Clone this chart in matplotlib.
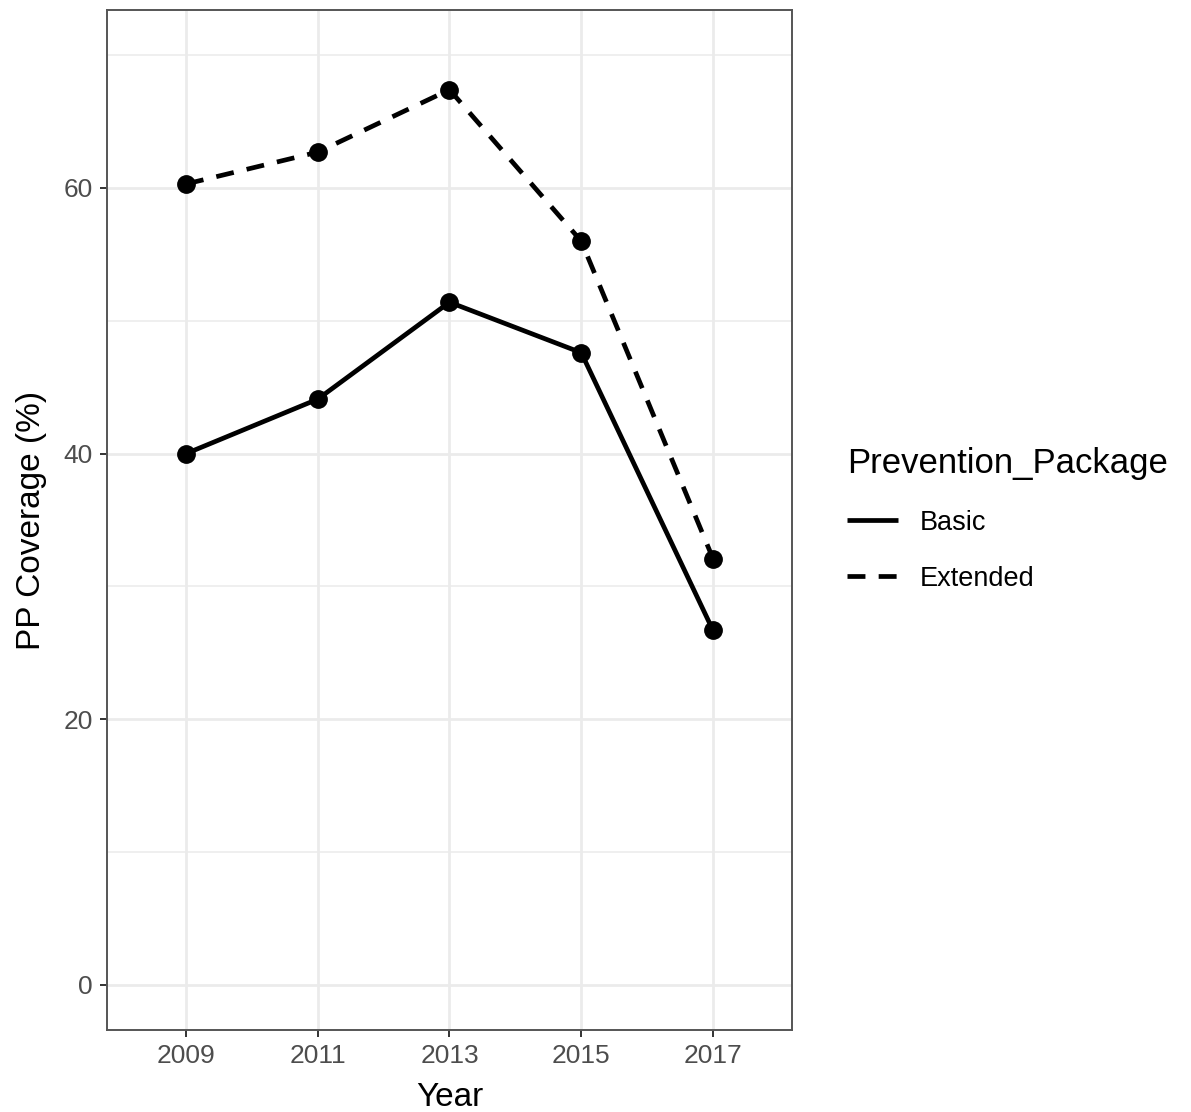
import matplotlib
matplotlib.use('Agg')
import matplotlib.pyplot as plt
from matplotlib.ticker import MultipleLocator

plt.rcParams['font.family'] = ['Liberation Sans', 'DejaVu Sans']

# Data
years = ['2009', '2011', '2013', '2015', '2017']
basic = [40.0, 44.1, 51.4, 47.6, 26.7]
extended = [60.3, 62.7, 67.4, 56.0, 32.1]
y_ticks = [0, 20, 40, 60]

fig = plt.figure(figsize=(11.91, 11.12), dpi=100)
ax = fig.add_axes([0.0898, 0.0737, 0.5752, 0.9173])

x = list(range(len(years)))

ax.plot(x, basic, color='black', lw=3.4, solid_capstyle='butt', label='Basic', zorder=3)
ax.plot(x, extended, color='black', lw=3.4, linestyle=(0, (3.8, 2.8)), label='Extended', zorder=3)
ax.plot(x, basic, 'o', color='black', ms=12.5, zorder=4)
ax.plot(x, extended, 'o', color='black', ms=12.5, zorder=4)

ax.set_xlim(-0.6, len(years) - 1 + 0.6)
ax.set_ylim(-3.4, 73.4)
ax.set_xticks(x)
ax.set_xticklabels(years)
ax.set_yticks(y_ticks)
ax.yaxis.set_minor_locator(MultipleLocator(10))

# theme_bw-like styling
ax.grid(True, which='major', color='#EBEBEB', lw=2.0, zorder=0)
ax.grid(True, which='minor', axis='y', color='#EBEBEB', lw=1.1, zorder=0)
ax.set_axisbelow(True)
for s in ax.spines.values():
    s.set_color('#555555')
    s.set_linewidth(1.4)
ax.tick_params(which='major', length=5, width=1.4, color='#333333', labelsize=19,
               labelcolor='#4D4D4D', pad=5)
ax.tick_params(which='minor', length=0)

ax.set_xlabel('Year', fontsize=24, labelpad=10)
ax.set_ylabel('PP Coverage (%)', fontsize=24, labelpad=12)

leg = ax.legend(title='Prevention_Package', loc='upper left', bbox_to_anchor=(0.711, 0.598),
                bbox_transform=fig.transFigure, frameon=False, fontsize=19.5, title_fontsize=25,
                handlelength=1.9, handletextpad=0.8, labelspacing=1.1, alignment='left',
                borderpad=0, borderaxespad=0)

plt.savefig('out.png', dpi=100)
